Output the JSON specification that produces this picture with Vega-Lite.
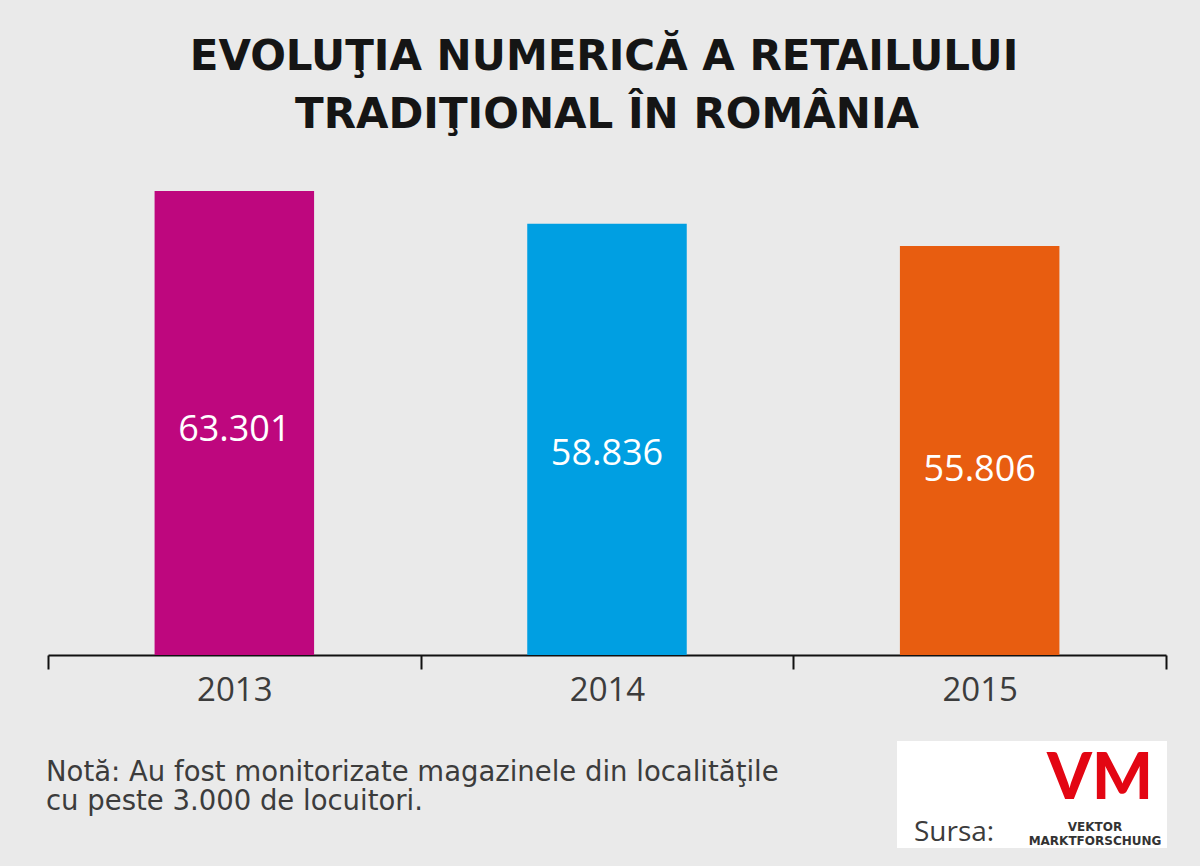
{
  "$schema": "https://vega.github.io/schema/vega-lite/v6.json",
  "width": 1118,
  "height": 475,
  "autosize": "none",
  "padding": {"left": 48, "top": 180, "right": 34, "bottom": 211},
  "background": "#eaeaea",
  "config": {"view": {"stroke": null}},
  "data": {
    "values": [
      {"an": "2013", "magazine": 63301, "eticheta": "63.301"},
      {"an": "2014", "magazine": 58836, "eticheta": "58.836"},
      {"an": "2015", "magazine": 55806, "eticheta": "55.806"}
    ]
  },
  "layer": [
    {
      "mark": {"type": "bar", "width": {"band": 0.428}},
      "encoding": {
        "x": {
          "field": "an",
          "type": "nominal",
          "scale": {"paddingInner": 0, "paddingOuter": 0},
          "axis": {
            "title": null,
            "labelAngle": 0,
            "labelFont": "Open Sans",
            "labelFontSize": 33,
            "labelColor": "#3c3c3c",
            "labelPadding": 5,
            "domainColor": "#111111",
            "domainWidth": 2,
            "tickColor": "#111111",
            "tickWidth": 2,
            "tickSize": 14,
            "tickBand": "extent"
          }
        },
        "y": {
          "field": "magazine",
          "type": "quantitative",
          "scale": {"domain": [0, 64800], "nice": false},
          "axis": null
        },
        "color": {
          "field": "an",
          "type": "nominal",
          "scale": {"domain": ["2013", "2014", "2015"], "range": ["#BE077E", "#009FE2", "#E85D10"]},
          "legend": null
        }
      }
    },
    {
      "mark": {"type": "text", "font": "Open Sans", "fontSize": 36, "color": "#ffffff", "baseline": "middle", "align": "center"},
      "encoding": {
        "x": {"field": "an", "type": "nominal"},
        "y": {
          "field": "magazine",
          "type": "quantitative",
          "scale": {"domain": [0, 70000], "range": [588, 214], "nice": false, "zero": true},
          "axis": null
        },
        "text": {"field": "eticheta"}
      }
    },
    {
      "data": {"values": [{}]},
      "mark": {"type": "text", "text": "EVOLUŢIA NUMERICĂ A RETAILULUI", "font": "DejaVu Sans", "fontWeight": "bold", "fontSize": 42, "color": "#151515", "align": "center", "baseline": "alphabetic"},
      "encoding": {"x": {"value": 556}, "y": {"value": -110}}
    },
    {
      "data": {"values": [{}]},
      "mark": {"type": "text", "text": "TRADIŢIONAL ÎN ROMÂNIA", "font": "DejaVu Sans", "fontWeight": "bold", "fontSize": 42, "color": "#151515", "align": "center", "baseline": "alphabetic"},
      "encoding": {"x": {"value": 559}, "y": {"value": -52}}
    },
    {
      "data": {"values": [{}]},
      "mark": {"type": "text", "text": "Notă: Au fost monitorizate magazinele din localităţile", "font": "DejaVu Sans", "fontSize": 27.5, "color": "#3c3c3c", "align": "left", "baseline": "alphabetic"},
      "encoding": {"x": {"value": -2}, "y": {"value": 601}}
    },
    {
      "data": {"values": [{}]},
      "mark": {"type": "text", "text": "cu peste 3.000 de locuitori.", "font": "DejaVu Sans", "fontSize": 27.5, "color": "#3c3c3c", "align": "left", "baseline": "alphabetic"},
      "encoding": {"x": {"value": -2}, "y": {"value": 630}}
    },
    {
      "data": {"values": [{}]},
      "mark": {"type": "rect", "color": "#ffffff"},
      "encoding": {"x": {"value": 849}, "x2": {"value": 1119}, "y": {"value": 561}, "y2": {"value": 668}}
    },
    {
      "data": {"values": [{}]},
      "mark": {"type": "text", "text": "Sursa:", "font": "Open Sans", "fontSize": 28, "color": "#3c3c3c", "align": "left", "baseline": "alphabetic"},
      "encoding": {"x": {"value": 866}, "y": {"value": 661}}
    },
    {
      "data": {"values": [{}]},
      "mark": {"type": "text", "text": "VM", "font": "Lato", "fontWeight": 900, "fontSize": 64, "color": "#E30613", "align": "center", "baseline": "alphabetic"},
      "encoding": {"x": {"value": 1052}, "y": {"value": 619}}
    },
    {
      "data": {"values": [{}]},
      "mark": {"type": "text", "text": ["VEKTOR", "MARKTFORSCHUNG"], "font": "DejaVu Sans", "fontWeight": "bold", "fontSize": 12, "lineHeight": 14, "color": "#333333", "align": "center", "baseline": "middle"},
      "encoding": {"x": {"value": 1047}, "y": {"value": 647}}
    }
  ],
  "resolve": {"scale": {"y": "independent"}}
}
